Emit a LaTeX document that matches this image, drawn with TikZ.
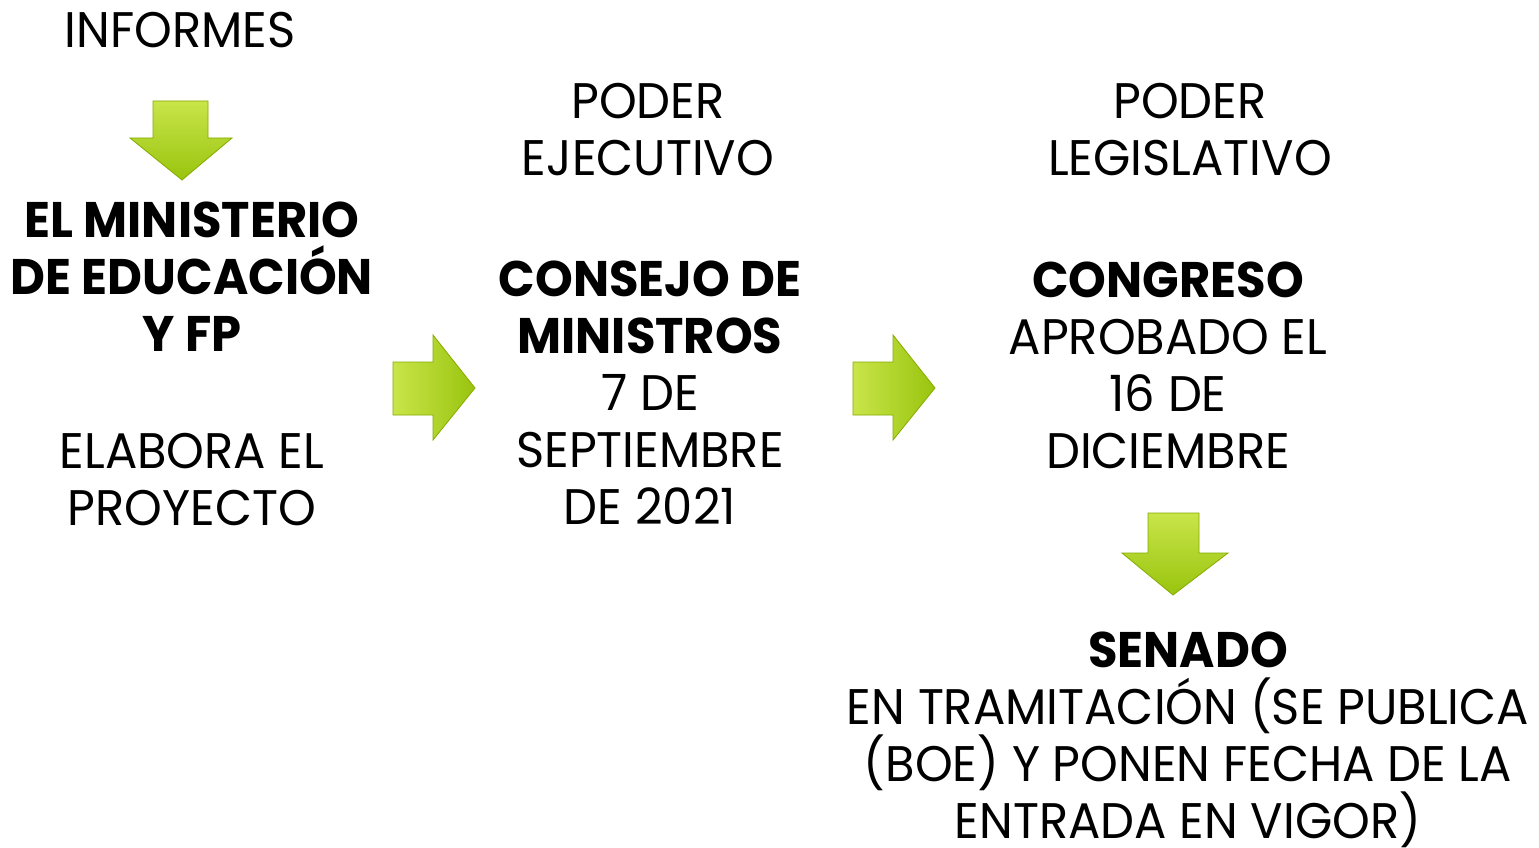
\documentclass[tikz,border=0pt]{standalone}
\usepackage{fontspec}
\setmainfont[FakeStretch=0.96]{Poppins}
\usetikzlibrary{shadings}
\definecolor{gtop}{HTML}{C9E54A}
\definecolor{gbot}{HTML}{99C40E}
\definecolor{gedge}{HTML}{86AB00}
\tikzset{
  txt/.style={align=center, font=\fontsize{50}{57}\selectfont, inner sep=0pt, text=black},
  blockarrow/.style={top color=gtop, bottom color=gbot, draw=gedge, line width=0.8pt, line join=miter},
}
\begin{document}
\begin{tikzpicture}[x=1pt,y=-1pt]
\useasboundingbox (0,0) rectangle (1539,848);
\fill[white] (0,0) rectangle (1539,848);
% arrows
\path[blockarrow] (153,101) -- (208,101) -- (208,138) -- (232,138) -- (182,180) -- (130,138) -- (153,138) -- cycle;
\path[blockarrow] (1148,513) -- (1199,513) -- (1199,553) -- (1228,553) -- (1173,595) -- (1122,553) -- (1148,553) -- cycle;
\path[blockarrow, left color=gtop, right color=gbot] (393,362) -- (433,362) -- (433,335) -- (475,388) -- (433,440) -- (433,415) -- (393,415) -- cycle;
\path[blockarrow, left color=gtop, right color=gbot] (853,362) -- (893,362) -- (893,335) -- (935,388) -- (893,440) -- (893,415) -- (853,415) -- cycle;
% texts
\node[txt] (inf) at (180,30) {INFORMES};
\node[txt] (pe) at (648,129.5) {PODER\\EJECUTIVO};
\node[txt] (pl) at (1190,129.5) {PODER\\LEGISLATIVO};
\node[txt, font=\fontsize{50}{57}\selectfont\bfseries] (min) at (192,277) {EL MINISTERIO\\DE EDUCACIÓN\\Y FP};
\node[txt] (ela) at (192,480) {ELABORA EL\\PROYECTO};
\node[txt] (cons) at (650,393) {\textbf{CONSEJO DE}\\\textbf{MINISTROS}\\7 DE\\SEPTIEMBRE\\DE 2021};
\node[txt] (cong) at (1168,365) {\textbf{CONGRESO}\\APROBADO EL\\16 DE\\DICIEMBRE};
\node[txt] (sen) at (1188,740) {\textbf{SENADO}\\EN TRAMITACIÓN (SE PUBLICA\\(BOE) Y PONEN FECHA DE LA\\ENTRADA EN VIGOR)};
\end{tikzpicture}
\end{document}
